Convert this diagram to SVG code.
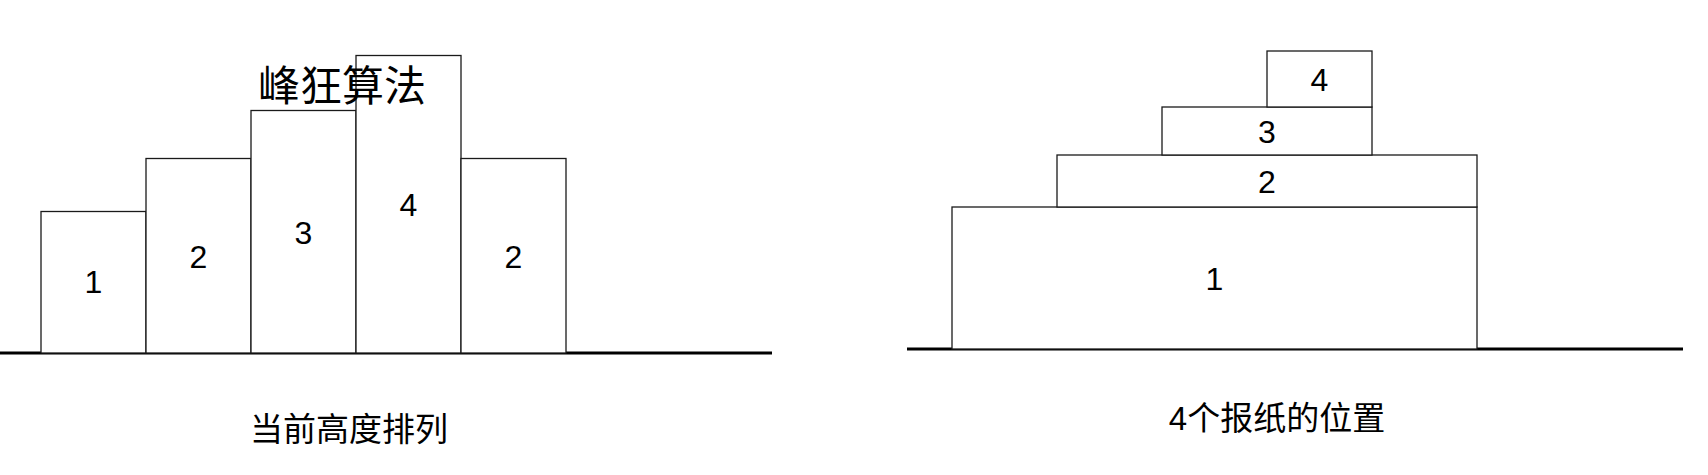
<svg xmlns="http://www.w3.org/2000/svg" width="1708" height="475" viewBox="0 0 1708 475">
<style>
.box{fill:#fff;stroke:#1a1a1a;stroke-width:1.3}
.ground{stroke:#000;stroke-width:3}
.num{font-family:"Liberation Sans",Arial,sans-serif;font-size:32px;fill:#000;text-anchor:middle}
.cap{font-family:"Liberation Sans","Noto Sans CJK SC",sans-serif;font-size:33px;fill:#000;text-anchor:middle}
.title{font-family:"Noto Sans CJK SC",sans-serif;font-size:42px;fill:#000;text-anchor:middle}
</style>
<rect width="1708" height="475" fill="#fff"/>
<g id="connectors">
<line class="ground" x1="0" y1="353" x2="772" y2="353"/>
<line class="ground" x1="907" y1="349" x2="1683" y2="349"/>
</g>
<g id="bar1"><rect class="box" x="41" y="211.5" width="105" height="141.5"/><text class="num" x="93.5" y="293">1</text></g>
<g id="bar2"><rect class="box" x="146" y="158.5" width="105" height="194.5"/><text class="num" x="198.5" y="267.5">2</text></g>
<g id="bar3"><rect class="box" x="251" y="110.5" width="105" height="242.5"/><text class="num" x="303.5" y="243.5">3</text></g>
<g id="bar4"><rect class="box" x="356" y="55.5" width="105" height="297.5"/><text class="num" x="408.5" y="215.5">4</text></g>
<g id="bar5"><rect class="box" x="461" y="158.5" width="105" height="194.5"/><text class="num" x="513.5" y="267.5">2</text></g>
<g id="title"><text class="title" x="342" y="101">峰狂算法</text></g>
<g id="paper1"><rect class="box" x="952" y="207" width="525" height="142"/><text class="num" x="1214.5" y="289.5">1</text></g>
<g id="paper2"><rect class="box" x="1057" y="155" width="420" height="52"/><text class="num" x="1267" y="193">2</text></g>
<g id="paper3"><rect class="box" x="1162" y="107" width="210" height="48"/><text class="num" x="1267" y="142.5">3</text></g>
<g id="paper4"><rect class="box" x="1267" y="51" width="105" height="56"/><text class="num" x="1319.5" y="90.5">4</text></g>
<g id="caption-left"><text class="cap" x="349" y="440.5">当前高度排列</text></g>
<g id="caption-right"><text class="cap" x="1277" y="429.5">4个报纸的位置</text></g>
</svg>
